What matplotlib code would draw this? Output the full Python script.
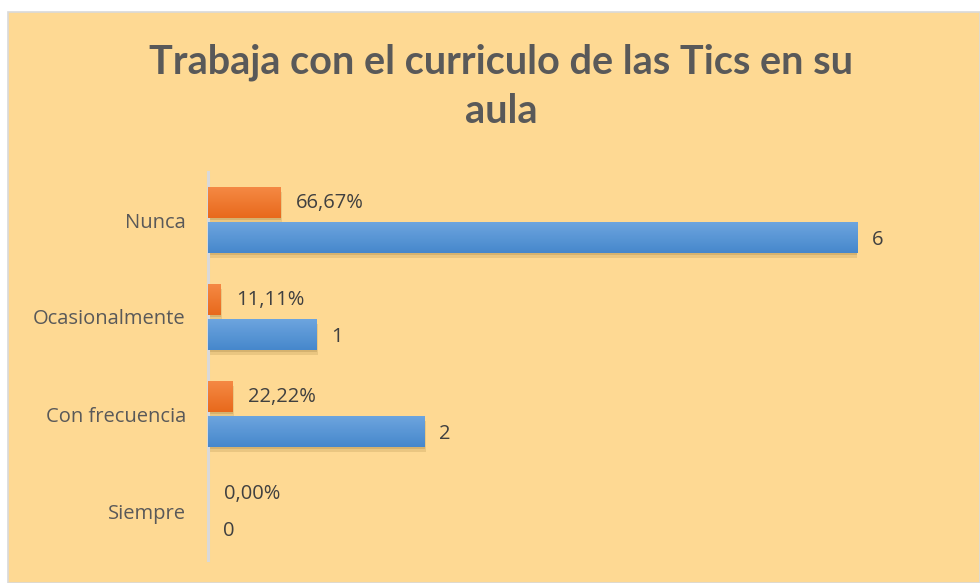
import matplotlib
matplotlib.use("Agg")
import matplotlib.pyplot as plt
import numpy as np
from matplotlib.patches import Rectangle

categories = ["Siempre", "Con frecuencia", "Ocasionalmente", "Nunca"]
counts = [0, 2, 1, 6]
percents = [0.0, 0.2222, 0.1111, 0.6667]
count_labels = ["0", "2", "1", "6"]
percent_labels = ["0,00%", "22,22%", "11,11%", "66,67%"]
title = "Trabaja con el curriculo de las Tics en su\naula"

plt.rcParams['font.family'] = ['Open Sans', 'DejaVu Sans']

W, H = 980, 583
fig = plt.figure(figsize=(W / 100, H / 100), dpi=100)
fig.patch.set_facecolor("white")

# chart area background
bg = Rectangle((8 / W, 0), 1 - 8 / W, 1 - 12 / H, transform=fig.transFigure,
               facecolor="#FED993", edgecolor="#D9D9D9", linewidth=1.2, zorder=-5)
fig.patches.append(bg)

fig.text(501 / W, 1 - 87 / H, title, ha="center", va="center", fontsize=28.5,
         fontweight="bold", color="#595959", linespacing=1.4, family="Lato")

left, right = 208 / W, 857 / W
bottom, top = 1 - 559.5 / H, 1 - 171.5 / H
ax = fig.add_axes([left, bottom, right - left, top - bottom])
ax.set_facecolor("none")
ax.patch.set_visible(False)

y = np.arange(len(categories))
h = 0.32
off = 0.18


def grad_bars(ax, ys, widths, color_top, color_bot):
    bars = ax.barh(ys, widths, height=h, color=color_bot, zorder=3, linewidth=0)
    c1 = np.array(matplotlib.colors.to_rgb(color_top))
    c2 = np.array(matplotlib.colors.to_rgb(color_bot))
    t = np.linspace(0, 1, 64)[:, None]
    img = (c1 * (1 - t) + c2 * t)[:, None, :]
    for b in bars:
        x0, y0 = b.get_x(), b.get_y()
        w, hh = b.get_width(), b.get_height()
        if w <= 0:
            continue
        # shadow
        sh = Rectangle((x0 + 0.02, y0 - 0.05), w, hh, facecolor="#7a5a20",
                       alpha=0.15, linewidth=0, zorder=2)
        ax.add_patch(sh)
        sh2 = Rectangle((x0 + 0.01, y0 - 0.025), w, hh, facecolor="#7a5a20",
                        alpha=0.18, linewidth=0, zorder=2)
        ax.add_patch(sh2)
        im = ax.imshow(img, extent=(x0, x0 + w, y0, y0 + hh), aspect="auto",
                       origin="upper", zorder=4, interpolation="bilinear")
        im.set_clip_path(b)
    return bars


grad_bars(ax, y - off, counts, "#6EA6DF", "#4687CC")
grad_bars(ax, y + off, percents, "#F58A45", "#E8691C")
ax.set_xlim(0, 6)
ax.set_ylim(-0.5, len(categories) - 0.5)

for yi, c, cl in zip(y, counts, count_labels):
    ax.annotate(cl, (c, yi - off), xytext=(10.5, -2), textcoords="offset points",
                va="center", ha="left", fontsize=14.5,
                color="#404040", zorder=5, annotation_clip=False)
for yi, p, pl in zip(y, percents, percent_labels):
    ax.annotate(pl, (p, yi + off), xytext=(11.5, 0), textcoords="offset points",
                va="center", ha="left", fontsize=14.5,
                color="#404040", zorder=5, annotation_clip=False)

ax.set_yticks(y)
ax.set_yticklabels(categories, fontsize=14.5, color="#595959")
ax.tick_params(axis="y", length=0, pad=16)
ax.set_xticks([])
for s in ["top", "right", "bottom"]:
    ax.spines[s].set_visible(False)
ax.spines["left"].set_color("#D9D9D9")
ax.spines["left"].set_linewidth(2.2)

fig.savefig("out.png", dpi=100)
